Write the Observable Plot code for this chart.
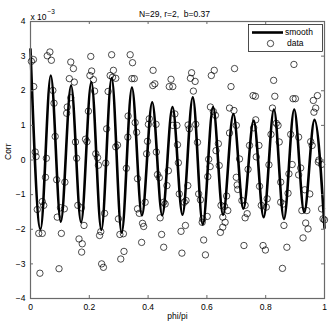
<!DOCTYPE html>
<html>
<head>
<meta charset="utf-8">
<script src="https://cdn.jsdelivr.net/npm/d3@7"></script>
<script src="https://cdn.jsdelivr.net/npm/@observablehq/plot@0.6"></script>
<style>
  html, body { margin: 0; padding: 0; background: #fff; }
  svg text { white-space: pre; }
</style>
</head>
<body>
<div id="chart"></div>
<script>
// ---- Chart data (Corr values in units of 1e-3) ----
const titleText = "N=29, r=2,  b=0.37";
const xLabel = "phi/pi";
const yLabel = "Corr";
const xTicks = [0, 0.2, 0.4, 0.6, 0.8, 1];
const xTickLabels = ["0", "0.2", "0.4", "0.6", "0.8", "1"];
const yTicks = [-4, -3, -2, -1, 0, 1, 2, 3, 4];
const yTickLabels = ["\u22124", "\u22123", "\u22122", "\u22121", "0", "1", "2", "3", "4"];
const legendLabels = ["smooth", "data"];

// smooth curve: extrema (peaks / troughs)
const smoothPhi = [0, 0.034, 0.069, 0.103, 0.138, 0.172, 0.207, 0.241, 0.276, 0.310,
  0.345, 0.379, 0.414, 0.448, 0.483, 0.517, 0.552, 0.586, 0.621, 0.655,
  0.690, 0.724, 0.759, 0.793, 0.828, 0.862, 0.897, 0.931, 0.966, 1.0];
const smoothCorr = [3.2, -2.0, 2.44, -1.78, 2.15, -1.8, 2.25, -2.02, 2.37, -2.1,
  2.09, -1.6, 1.67, -1.6, 1.53, -1.58, 1.81, -1.86, 1.53, -1.58,
  1.33, -1.41, 1.14, -1.65, 1.46, -1.7, 1.46, -1.51, 1.16, -1.96];

// data points
const dataPhi = [
  0.003, 0.010, 0.011, 0.016, 0.019, 0.054, 0.057, 0.066, 0.071, 0.076, 0.080, 0.084,
  0.137, 0.146, 0.132, 0.149, 0.137, 0.125, 0.123, 0.153, 0.157,
  0.205, 0.208, 0.202, 0.214, 0.218, 0.197, 0.187, 0.192, 0.222, 0.228,
  0.276, 0.282, 0.271, 0.279, 0.290, 0.264, 0.259, 0.290, 0.296,
  0.339, 0.347, 0.345, 0.353, 0.332, 0.356, 0.331, 0.361,
  0.417, 0.416, 0.423, 0.404, 0.401, 0.427, 0.398, 0.395, 0.428,
  0.478, 0.472, 0.484, 0.491, 0.484, 0.498, 0.500,
  0.548, 0.544, 0.560, 0.554, 0.536, 0.540, 0.562, 0.568,
  0.615, 0.625, 0.612, 0.622, 0.629, 0.639, 0.631, 0.606,
  0.682, 0.677, 0.692, 0.677, 0.694, 0.700, 0.711,
  0.757, 0.765, 0.759, 0.766, 0.745, 0.777, 0.768,
  0.827, 0.831, 0.823, 0.836, 0.842, 0.818, 0.846,
  0.896, 0.893, 0.901, 0.885, 0.912,
  0.976, 0.962, 0.970, 0.964, 0.953, 0.958, 0.981,
  0.051, 0.040, 0.045, 0.023, 0.028, 0.040, 0.032,
  0.089, 0.117, 0.091, 0.102, 0.115, 0.105, 0.097,
  0.161, 0.173, 0.182, 0.165, 0.176, 0.174,
  0.231, 0.256, 0.252, 0.235, 0.239, 0.242, 0.248,
  0.326, 0.299, 0.304, 0.316, 0.307, 0.318,
  0.364, 0.364, 0.370, 0.390, 0.381, 0.385, 0.378,
  0.432, 0.438, 0.469, 0.464, 0.453, 0.458, 0.441, 0.446, 0.453,
  0.503, 0.535, 0.506, 0.523, 0.529, 0.512, 0.527, 0.515,
  0.603, 0.611, 0.572, 0.578, 0.586, 0.601, 0.584, 0.589, 0.595,
  0.642, 0.667, 0.648, 0.660, 0.654, 0.671, 0.662, 0.654, 0.646,
  0.700, 0.703, 0.705, 0.740, 0.719, 0.730, 0.737, 0.730, 0.726,
  0.811, 0.779, 0.785, 0.802, 0.805, 0.791, 0.799,
  0.851, 0.876, 0.851, 0.860, 0.862, 0.872, 0.857,
  0.890, 0.879, 0.919, 0.912, 0.933, 0.950, 0.923, 0.940, 0.936, 0.944, 0.927,
  0.979, 0.990, 0.990, 0.995, 1.0
];
const dataCorr = [
  2.85, 2.90, 2.12, 0.23, 0.10, 0.05, 3.01, 3.12, 2.88, 2.01, 1.64, 0.68,
  2.83, 2.64, 2.35, 2.25, 1.80, 1.53, 1.35, 0.52, 0.05,
  2.99, 2.57, 2.44, 2.32, 1.99, 1.41, 0.60, 0.53, 0.18, 0.07,
  3.04, 2.59, 2.44, 2.39, 2.36, 1.98, 0.90, 0.38, 0.43,
  3.04, 2.81, 2.35, 2.35, 1.27, 1.08, 0.66, 0.80,
  2.59, 2.15, 2.20, 1.19, 1.03, 1.03, 0.54, 0.18, 0.23,
  2.33, 2.12, 2.12, 1.33, 1.00, 1.00, 0.44,
  2.52, 2.36, 2.27, 1.99, 1.01, 0.90, 1.03, 0.51,
  2.44, 2.59, 1.53, 1.40, 1.29, 0.47, 0.27, 0.02,
  2.12, 1.50, 1.43, 0.78, 2.64, 1.00, 0.03,
  1.86, 1.84, 0.93, 1.16, 0.42, 0.42, 0.09,
  2.30, 1.84, 1.50, 1.06, 1.00, 0.74, 0.52,
  2.76, 1.77, 1.77, 0.74, 0.66,
  1.86, 1.72, 1.50, 1.38, 0.53, 0.42, 0.00,
  -0.50, -1.20, -1.31, -1.43, -2.12, -2.12, -3.27,
  -0.57, -0.64, -1.65, -1.38, -1.41, -2.12, -3.14,
  -1.31, -1.38, -1.89, -2.28, -2.42, -2.66,
  -0.15, -0.09, -1.54, -2.18, -2.07, -3.00, -3.10,
  -0.24, -1.70, -2.15, -2.13, -2.86, -2.64,
  -0.54, -1.41, -1.54, -1.22, -1.83, -1.92, -2.38,
  -0.42, -0.51, -0.31, -0.74, -1.22, -1.27, -1.67, -2.15, -2.52,
  -0.08, -0.74, -0.98, -1.22, -1.17, -2.06, -1.89, -2.69,
  -0.48, -0.19, -0.98, -1.15, -1.70, -1.63, -1.80, -2.31, -2.74,
  -0.16, -1.04, -1.31, -1.34, -1.65, -1.46, -1.80, -1.94, -2.09,
  -0.50, -0.72, -0.85, -0.27, -1.17, -1.31, -1.55, -1.67, -2.47,
  -0.14, -0.76, -1.31, -1.36, -1.12, -2.47, -2.60,
  -0.64, -0.96, -1.22, -1.27, -1.89, -2.52, -3.13,
  -0.13, -0.40, -0.23, -0.43, -0.86, -0.98, -1.46, -1.46, -1.82, -1.99, -2.25,
  -0.06, -0.13, -1.41, -1.70, -1.73
];

// ---- build tables for the library ----
const smooth = smoothPhi.map((x, i) => ({x, y: smoothCorr[i]}));
const points = dataPhi.map((x, i) => ({x, y: dataCorr[i]}));
const axisColor = "#6a6a6a";
const font = "'Liberation Sans', Arial, Helvetica, sans-serif";

const chart = Plot.plot({
  width: 332,
  height: 325,
  marginLeft: 30,
  marginRight: 8,
  marginTop: 21,
  marginBottom: 27,
  style: {fontFamily: font, fontSize: "8.5px", background: "#fff", color: "#000", overflow: "visible"},
  x: {domain: [0, 1]},
  y: {domain: [-4, 4]},
  marks: [
    Plot.line(smooth, {x: "x", y: "y", curve: "monotone-x", stroke: "#000", strokeWidth: 2.6}),
    Plot.dot(points, {x: "x", y: "y", r: 3.2, stroke: "#000", strokeWidth: 0.7, fill: "none"}),
    // inward ticks on all four sides
    Plot.tickX(xTicks, {x: d => d, insetTop: 274, stroke: axisColor}),
    Plot.tickX(xTicks, {x: d => d, insetBottom: 274, stroke: axisColor}),
    Plot.tickY(yTicks, {y: d => d, insetRight: 291, stroke: axisColor}),
    Plot.tickY(yTicks, {y: d => d, insetLeft: 291, stroke: axisColor}),
    Plot.frame({stroke: axisColor, strokeWidth: 1.2}),
    Plot.axisX(xTicks, {tickSize: 0, tickPadding: 5, tickFormat: (d, i) => xTickLabels[i], label: null}),
    Plot.axisY(yTicks, {tickSize: 0, tickPadding: 5, tickFormat: (d, i) => yTickLabels[i], label: null}),
    Plot.text([xLabel], {text: d => d, frameAnchor: "bottom", dy: 20}),
    Plot.text([yLabel], {text: d => d, frameAnchor: "left", dx: -22, rotate: -90}),
    Plot.text([titleText], {text: d => d, frameAnchor: "top", dx: -3, dy: -11}),
    Plot.text(["x 10"], {text: d => d, frameAnchor: "top-left", textAnchor: "start", dy: -8}),
    Plot.text(["\u22123"], {text: d => d, frameAnchor: "top-left", textAnchor: "start", dx: 17, dy: -12, fontSize: 6.5})
  ]
});

// legend box (MATLAB style)
const svg = d3.select(chart);
const lg = svg.append("g").attr("font-family", font).attr("font-size", "8.5px").attr("text-anchor", "start");
lg.append("rect").attr("x", 248.5).attr("y", 24.5).attr("width", 74).attr("height", 27)
  .attr("fill", "#fff").attr("stroke", "#000").attr("stroke-width", 0.7);
lg.append("line").attr("x1", 252).attr("x2", 283).attr("y1", 32.5).attr("y2", 32.5)
  .attr("stroke", "#000").attr("stroke-width", 2.6);
lg.append("text").attr("x", 285).attr("y", 32.5).attr("dy", "0.32em").attr("text-anchor", "start").text(legendLabels[0]);
lg.append("circle").attr("cx", 270.5).attr("cy", 43.5).attr("r", 3.2)
  .attr("fill", "none").attr("stroke", "#000").attr("stroke-width", 0.7);
lg.append("text").attr("x", 287).attr("y", 43.5).attr("dy", "0.32em").attr("text-anchor", "start").text(legendLabels[1]);

document.getElementById("chart").appendChild(chart);
</script>
</body>
</html>
